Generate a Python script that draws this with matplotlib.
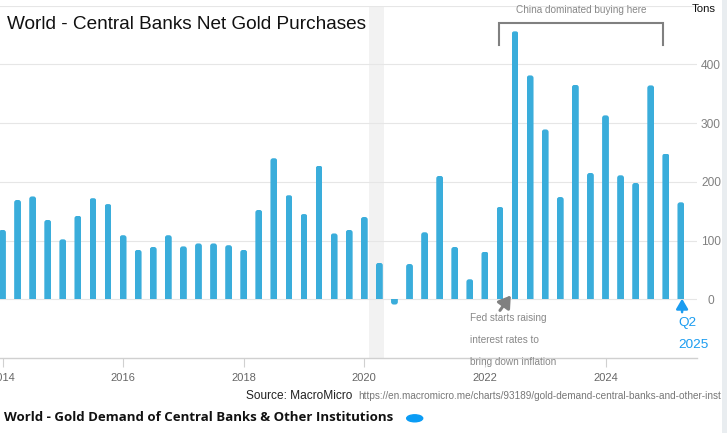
import matplotlib
matplotlib.use("Agg")
import matplotlib.pyplot as plt
import matplotlib.patches as mpatches
import matplotlib.transforms as mtransforms
import numpy as np

# ---------------- data ----------------
years = [2014]*4 + [2015]*4 + [2016]*4 + [2017]*4 + [2018]*4 + [2019]*4 + \
        [2020]*4 + [2021]*4 + [2022]*4 + [2023]*4 + [2024]*4 + [2025]*2
quarters = [1, 2, 3, 4]*11 + [1, 2]
values = [118, 169, 175, 135,
          102, 142, 172, 162,
          109, 84, 89, 109,
          90, 95, 95, 92,
          84, 152, 240, 177,
          145, 227, 112, 118,
          140, 62, -9, 60,
          114, 210, 89, 34,
          81, 157, 456, 381,
          289, 174, 365, 215,
          313, 211, 198, 364,
          248, 165]
xtick_years = [2014, 2016, 2018, 2020, 2022, 2024]
ytick_vals = [0, 100, 200, 300, 400, 500]
ytick_labels = ["0", "100", "200", "300", "400", ""]
recession = (2020 + 1/12, 2020 + 4/12)

title = "World - Central Banks Net Gold Purchases"
unit_label = "Tons"
china_note = "China dominated buying here"
fed_note = "Fed starts raising\ninterest rates to\nbring down inflation"
q_note = "Q2\n2025"
source_label = "Source: MacroMicro"
source_url = "https://en.macromicro.me/charts/93189/gold-demand-central-banks-and-other-inst"
legend_label = "World - Gold Demand of Central Banks & Other Institutions"

BAR = "#3aaddb"
BLUE = "#1a9cf0"
GREY = "#888888"

W, H = 727, 433
fig = plt.figure(figsize=(W/100, H/100), dpi=100)
fig.patch.set_facecolor("white")
plt.rcParams["font.family"] = ["Liberation Sans", "DejaVu Sans"]

# pixel transform (origin top-left)
px = mtransforms.Affine2D().scale(1/W, -1/H).translate(0, 1) + fig.transFigure

ax = fig.add_axes([0/W, (H-358)/H, 697/W, (358-5.5)/H])
ax.set_facecolor("none")
ax.set_xlim(2014 - 2.5/60.3, 2014 + (697-2.5)/60.3)
ax.set_ylim(-100, 500)

x = np.array(years) + (np.array(quarters) - 1) * 0.25
bar_w = 0.113
bars = ax.bar(x, values, width=bar_w, color=BAR, zorder=3, linewidth=0)

# rounded value-end of each column (rounded box clipped to the column rectangle)
bb = ax.get_window_extent()
xpp = (ax.get_xlim()[1] - ax.get_xlim()[0]) / bb.width
ypp = (ax.get_ylim()[1] - ax.get_ylim()[0]) / bb.height
aspect = ypp / xpp
r = 2.6 * xpp
for rect in bars.patches:
    x0, y0, w, h = rect.get_x(), rect.get_y(), rect.get_width(), rect.get_height()
    ext = r * aspect * 1.2
    if h >= 0:
        fy, fh = y0 - ext, h + ext
    else:
        fy, fh = y0 + h, -h + ext
    fp = mpatches.FancyBboxPatch((x0, fy), w, fh,
                                 boxstyle=f"round,pad=0,rounding_size={r}",
                                 mutation_aspect=aspect, facecolor=BAR,
                                 linewidth=0, zorder=3)
    ax.add_patch(fp)
    fp.set_clip_path(rect)
    rect.set_visible(False)

ax.axvspan(*recession, color="#f2f2f2", zorder=0, linewidth=0)

for s in ["left", "right", "top"]:
    ax.spines[s].set_visible(False)
ax.spines["bottom"].set_color("#d0d0d0")
ax.spines["bottom"].set_linewidth(1.0)

ax.set_xticks(xtick_years)
ax.set_xticklabels([str(y) for y in xtick_years])
ax.tick_params(axis="x", direction="out", length=6.5, width=0.8, color="#d0d0d0",
               labelcolor="#666666", labelsize=8, pad=4)

ax.yaxis.tick_right()
ax.set_yticks(ytick_vals)
ax.set_yticklabels(ytick_labels)
ax.tick_params(axis="y", length=0, labelcolor="#808080", labelsize=8.6, pad=10)
for lab in ax.get_yticklabels():
    lab.set_horizontalalignment("center")
ax.grid(axis="y", color="#e6e6e6", linewidth=0.8, zorder=1)
ax.set_axisbelow(True)

# title and unit
fig.text(7, 29, title, transform=px, fontsize=13.7, color="#111111", va="baseline", ha="left")
fig.text(692, 11.7, unit_label, transform=px, fontsize=8.2, color="#111111", va="baseline", ha="left")

# China bracket
bx0, bx1, by_top, by_bot = 2022.24, 2024.96, 470, 433
ax.plot([bx0, bx0, bx1, bx1], [by_bot, by_top, by_top, by_bot], color="#808080",
        linewidth=1.5, clip_on=False, zorder=4, solid_joinstyle="miter")
ax.text((bx0 + bx1) / 2, 492, china_note, fontsize=7.2, color=GREY, ha="center", va="center")

# Fed arrow + note
ax.annotate("", xy=(2022.43, 6.5), xytext=(2022.25, -19),
            arrowprops=dict(arrowstyle="-|>,head_length=0.7,head_width=0.45", color="#808080",
                            lw=2.2, shrinkA=0, shrinkB=0), annotation_clip=False, zorder=5)
fig.text(470, 313, fed_note, transform=px, fontsize=7.2, color=GREY, ha="left", va="top",
         linespacing=2.5)

# Q2 2025 arrow + note
ax.annotate("", xy=(2025.27, 1), xytext=(2025.27, -22),
            arrowprops=dict(arrowstyle="-|>,head_length=0.6,head_width=0.35", color=BLUE,
                            lw=1.8, shrinkA=0, shrinkB=0), annotation_clip=False, zorder=5)
fig.text(678, 317, q_note, transform=px, fontsize=9.7, color=BLUE, ha="left", va="top",
         linespacing=2.15)

# source
fig.text(245.7, 395.7, source_label, transform=px, fontsize=8.6, color="#222222",
         ha="left", va="center")
fig.text(358.7, 396, source_url, transform=px, fontsize=7.2, color="#777777",
         ha="left", va="center")

# legend
fig.text(3.5, 417.7, legend_label, transform=px, fontsize=9.5, fontweight="bold",
         family=["Open Sans", "DejaVu Sans"], color="#111111", ha="left", va="center")
fig.add_artist(mpatches.Ellipse((414.7, 418.3), 16, 7, transform=px, color="#0a9cf5"))

# right edge strip
fig.add_artist(mpatches.Rectangle((722, 0), 5, H, transform=px, color="#e9edf0", linewidth=0))

fig.savefig("out.png", dpi=100)
